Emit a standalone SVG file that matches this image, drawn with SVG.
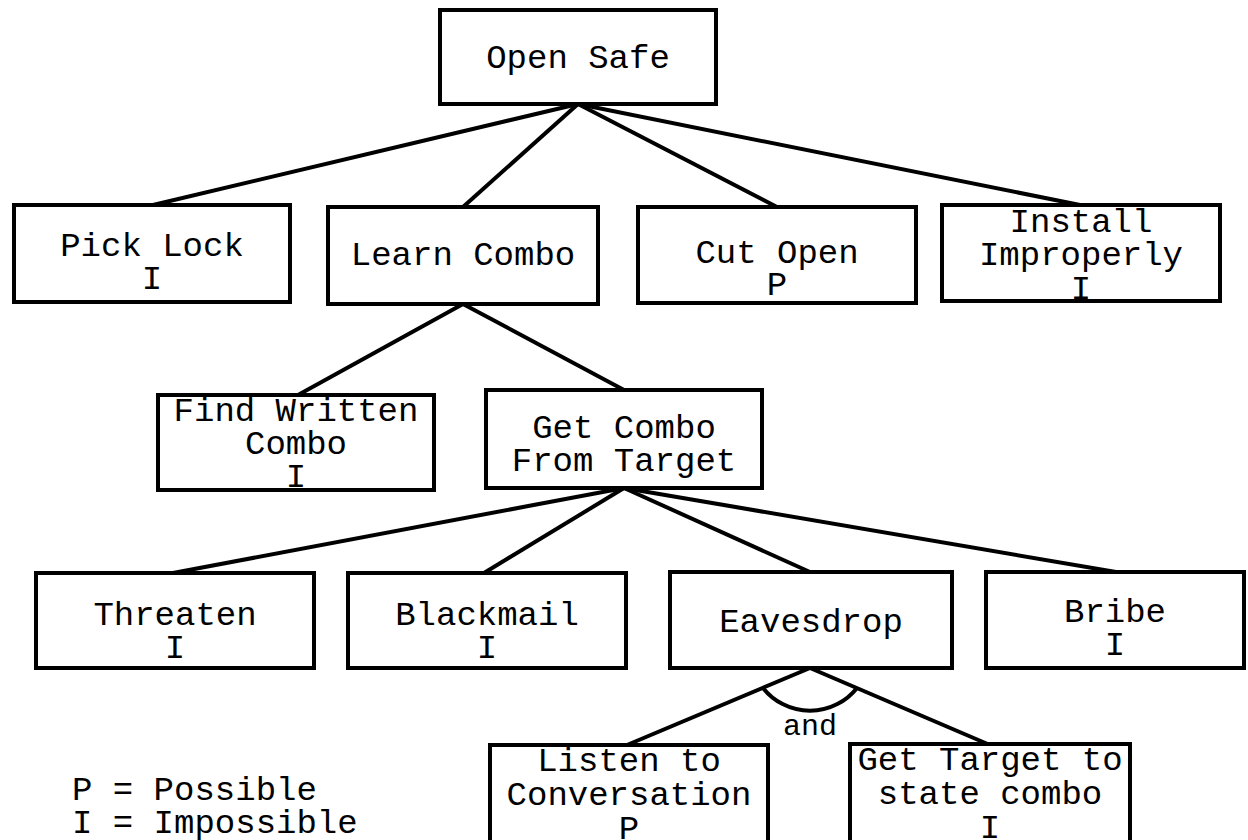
<svg xmlns="http://www.w3.org/2000/svg" width="1248" height="840" viewBox="0 0 1248 840">
<style>
  .box { fill: #ffffff; stroke: #000000; stroke-width: 4; }
  .t { font-family: "Liberation Mono", "DejaVu Sans Mono", monospace; font-size: 34px; fill: #000000; text-anchor: middle; }
  .small { font-family: "Liberation Mono", "DejaVu Sans Mono", monospace; font-size: 30px; fill: #000000; text-anchor: middle; }
  .legend { font-family: "Liberation Mono", "DejaVu Sans Mono", monospace; font-size: 34px; fill: #000000; }
  .edge { fill: none; stroke: #000000; stroke-width: 4; }
</style>
<rect width="1248" height="840" fill="#ffffff"/>
<g id="connectors">
  <line class="edge" x1="578" y1="104" x2="153" y2="205"/>
  <line class="edge" x1="578" y1="104" x2="463" y2="207"/>
  <line class="edge" x1="578" y1="104" x2="777" y2="207"/>
  <line class="edge" x1="578" y1="104" x2="1080" y2="205"/>
  <line class="edge" x1="463" y1="304" x2="298" y2="395"/>
  <line class="edge" x1="463" y1="304" x2="624" y2="390"/>
  <line class="edge" x1="624" y1="488" x2="173" y2="573"/>
  <line class="edge" x1="624" y1="488" x2="484" y2="573"/>
  <line class="edge" x1="624" y1="488" x2="810" y2="572"/>
  <line class="edge" x1="624" y1="488" x2="1116" y2="572"/>
  <line class="edge" x1="810" y1="668" x2="627" y2="745"/>
  <line class="edge" x1="810" y1="668" x2="990" y2="745"/>
  <path class="edge" d="M763,688 A60,60 0 0 0 857,688"/>
  <text class="small" x="810" y="735">and</text>
</g>
<g id="open-safe">
  <rect class="box" x="440" y="10" width="276" height="94"/>
  <text class="t" x="578" y="68">Open Safe</text>
</g>
<g id="pick-lock">
  <rect class="box" x="14" y="205" width="276" height="97"/>
  <text class="t" x="152" y="256">Pick Lock</text>
  <text class="t" x="152" y="289">I</text>
</g>
<g id="learn-combo">
  <rect class="box" x="328" y="207" width="270" height="97"/>
  <text class="t" x="463" y="265">Learn Combo</text>
</g>
<g id="cut-open">
  <rect class="box" x="638" y="207" width="278" height="96"/>
  <text class="t" x="777" y="263">Cut Open</text>
  <text class="t" x="777" y="295">P</text>
</g>
<g id="install-improperly">
  <rect class="box" x="942" y="205" width="278" height="96"/>
  <text class="t" x="1081" y="232">Install</text>
  <text class="t" x="1081" y="265">Improperly</text>
  <text class="t" x="1081" y="299">I</text>
</g>
<g id="find-written-combo">
  <rect class="box" x="158" y="395" width="276" height="95"/>
  <text class="t" x="296" y="421">Find Written</text>
  <text class="t" x="296" y="454">Combo</text>
  <text class="t" x="296" y="487">I</text>
</g>
<g id="get-combo-from-target">
  <rect class="box" x="486" y="390" width="276" height="98"/>
  <text class="t" x="624" y="438">Get Combo</text>
  <text class="t" x="624" y="471">From Target</text>
</g>
<g id="threaten">
  <rect class="box" x="36" y="573" width="278" height="95"/>
  <text class="t" x="175" y="625">Threaten</text>
  <text class="t" x="175" y="658">I</text>
</g>
<g id="blackmail">
  <rect class="box" x="348" y="573" width="278" height="95"/>
  <text class="t" x="487" y="625">Blackmail</text>
  <text class="t" x="487" y="658">I</text>
</g>
<g id="eavesdrop">
  <rect class="box" x="670" y="572" width="282" height="96"/>
  <text class="t" x="811" y="632">Eavesdrop</text>
</g>
<g id="bribe">
  <rect class="box" x="986" y="572" width="258" height="96"/>
  <text class="t" x="1115" y="622">Bribe</text>
  <text class="t" x="1115" y="655">I</text>
</g>
<g id="listen-to-conversation">
  <rect class="box" x="490" y="745" width="278" height="110"/>
  <text class="t" x="629" y="771">Listen to</text>
  <text class="t" x="629" y="805">Conversation</text>
  <text class="t" x="629" y="839">P</text>
</g>
<g id="get-target-to-state-combo">
  <rect class="box" x="850" y="744" width="280" height="110"/>
  <text class="t" x="990" y="770">Get Target to</text>
  <text class="t" x="990" y="804">state combo</text>
  <text class="t" x="990" y="838">I</text>
</g>
<g id="legend">
  <text class="legend" x="72" y="800">P = Possible</text>
  <text class="legend" x="72" y="833">I = Impossible</text>
</g>
</svg>
